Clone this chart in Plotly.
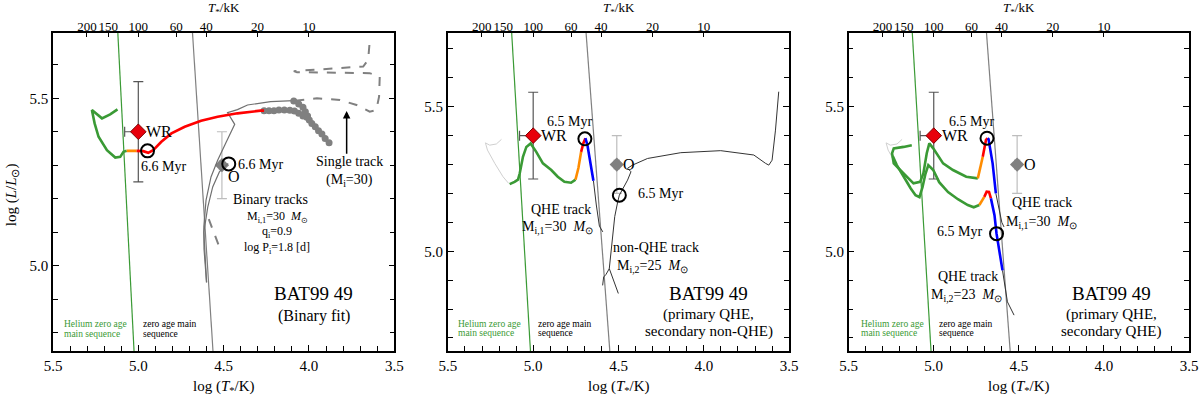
import numpy as np
import plotly.graph_objects as go

# ---------------- data (logT, logL) ----------------
# zero age main sequences
zams_logT = [4.544, 4.702]
zams_logL = [4.60, 5.85]
he_zams_logT = [5.0105, 5.1355]
he_zams_logL = [4.60, 5.85]

# observed components
wr_logT = [5.00]
wr_logL = [5.40]
wr_err_L = [0.15]
wr_err_T = [0.08]
o_logT = [4.51]
o_logL = [5.30]
o_err_L = [0.10]
o_err_T = [0.015]

# top axis ticks in kK
top_ticks_kK = [200, 150, 100, 60, 40, 20, 10]

# ---- panel 1: binary fit ----
p1_green_T = [5.122, 5.165, 5.213, 5.272, 5.256, 5.233, 5.184, 5.135, 5.106, 5.087, 5.068]
p1_green_L = [5.467, 5.452, 5.440, 5.465, 5.425, 5.385, 5.345, 5.323, 5.325, 5.340, 5.343]
p1_orange_T = [5.068, 5.010]
p1_orange_L = [5.343, 5.343]
p1_red_T = [5.010, 4.971, 4.942, 4.913, 4.865, 4.806, 4.728, 4.632, 4.535, 4.419, 4.283, 4.263]
p1_red_L = [5.343, 5.342, 5.337, 5.345, 5.370, 5.395, 5.415, 5.433, 5.445, 5.455, 5.463, 5.463]
p1_prim_T = [4.600, 4.615, 4.616, 4.603, 4.574, 4.535, 4.488, 4.458, 4.435, 4.477, 4.419, 4.360, 4.225, 4.089]
p1_prim_L = [4.950, 5.050, 5.116, 5.196, 5.265, 5.315, 5.366, 5.395, 5.422, 5.457, 5.466, 5.480, 5.490, 5.493]
p1_sec_T = [4.600, 4.616, 4.593, 4.564, 4.525, 4.473]
p1_sec_L = [4.950, 5.100, 5.175, 5.235, 5.280, 5.305]
p1_rlof_T = [4.089, 4.060, 4.035, 4.021, 4.008, 3.998, 3.983, 3.963, 3.944, 3.924, 3.905, 3.882]
p1_rlof_L = [5.492, 5.483, 5.473, 5.460, 5.447, 5.435, 5.425, 5.415, 5.403, 5.393, 5.380, 5.367]
p1_rlof2_T = [4.263, 4.234, 4.205, 4.176, 4.144, 4.112, 4.085, 4.060, 4.035, 4.012]
p1_rlof2_L = [5.463, 5.463, 5.463, 5.465, 5.465, 5.464, 5.462, 5.455, 5.447, 5.443]
p1_single_T = [4.587, 4.529, None, 4.080, 3.953, 3.818, 3.721, 3.644, 3.605, 3.589, 3.585,
               3.644, 3.876, 4.070, 4.089, 3.876, 3.682, 3.653, 3.644]
p1_single_L = [5.139, 5.061, None, 5.493, 5.500, 5.495, 5.480, 5.460, 5.465, 5.505, 5.565,
               5.575, 5.577, 5.578, 5.581, 5.588, 5.595, 5.615, 5.669]
p1_age_T = [4.946, 4.470]
p1_age_L = [5.343, 5.304]

# ---- panels 2 and 3: faint earlier track ----
ghost_T = [5.144, 5.177, 5.225, 5.268, 5.280, 5.255, 5.216, 5.186]
ghost_L = [5.235, 5.258, 5.304, 5.350, 5.375, 5.367, 5.371, 5.387]

# ---- panel 2: primary QHE, secondary non-QHE ----
p2_thin_T = [4.592, 4.612, 4.630, 4.647]
p2_thin_L = [5.067, 5.087, 5.160, 5.244]
p2_blue_T = [4.647, 4.665, 4.682, 4.694]
p2_blue_L = [5.244, 5.305, 5.367, 5.391]
p2_red_T = [4.694, 4.706, 4.719]
p2_red_L = [5.391, 5.374, 5.344]
p2_orange_T = [4.719, 4.735, 4.752]
p2_orange_L = [5.344, 5.288, 5.248]
p2_green_T = [4.752, 4.778, 4.817, 4.856, 4.894, 4.943, 4.982, 5.015, 5.040, 5.060, 5.079, 5.089, 5.109, 5.138]
p2_green_L = [5.248, 5.237, 5.240, 5.258, 5.281, 5.304, 5.344, 5.373, 5.361, 5.327, 5.269, 5.248, 5.240, 5.232]
p2_sec_T = [4.593, 4.587, 4.573, 4.554, 4.501, None, 4.554, 4.545, 4.535, 4.522, 4.505, 4.495,
            4.447, 4.427, 4.447, 4.418, 4.330, 4.135, 3.901, 3.707, 3.638, 3.619, 3.600, 3.580, 3.561]
p2_sec_L = [4.882, 4.911, 4.920, 4.940, 4.854, None, 4.940, 4.990, 5.060, 5.120, 5.170, 5.194,
            5.246, 5.275, 5.287, 5.298, 5.321, 5.341, 5.348, 5.333, 5.304, 5.298, 5.315, 5.419, 5.552]
p2_age_T = [4.697, 4.495]
p2_age_L = [5.389, 5.194]

# ---- panel 3: primary QHE, secondary QHE ----
p3a_thin_T = [4.587, 4.600, 4.635]
p3a_thin_L = [5.084, 5.100, 5.200]
p3a_blue_T = [4.635, 4.654, 4.678, 4.683]
p3a_blue_L = [5.200, 5.304, 5.388, 5.391]
p3a_red_T = [4.683, 4.693, 4.712]
p3a_red_L = [5.391, 5.385, 5.327]
p3a_orange_T = [4.712, 4.722, 4.741]
p3a_orange_L = [5.327, 5.298, 5.252]
p3a_green_T = [4.741, 4.809, 4.887, 4.945, 5.003, 5.026, 5.041, 5.061, 5.080, 5.119, 5.177, 5.235,
               5.245, 5.235, 5.177, 5.129]
p3a_green_L = [5.252, 5.258, 5.281, 5.304, 5.356, 5.373, 5.339, 5.269, 5.240, 5.235, 5.269, 5.304,
               5.339, 5.356, 5.361, 5.367]
p3b_thin_T = [4.596, 4.575, 4.567, 4.528]
p3b_thin_L = [4.934, 4.860, 4.825, 4.779]
p3b_blue_T = [4.596, 4.614, 4.631, 4.643, 4.664]
p3b_blue_L = [4.934, 4.997, 5.061, 5.125, 5.183]
p3b_red_T = [4.664, 4.675, 4.689, 4.703]
p3b_red_L = [5.183, 5.205, 5.206, 5.188]
p3b_orange_T = [4.703, 4.718, 4.732]
p3b_orange_L = [5.188, 5.173, 5.160]
p3b_green_T = [4.732, 4.765, 4.800, 4.858, 4.916, 4.968, 5.003, 5.032, 5.049, 5.066, 5.084, 5.107,
               5.136, 5.177, 5.217, 5.241]
p3b_green_L = [5.160, 5.152, 5.160, 5.180, 5.205, 5.239, 5.281, 5.298, 5.267, 5.222, 5.187, 5.194,
               5.218, 5.260, 5.298, 5.329]
p3_age_T = [4.687, 4.631]
p3_age_L = [5.391, 5.061]

# ---------------- styling ----------------
SERIF = "Liberation Serif, Times New Roman, serif"
GREEN = "#3a9a35"
ORANGE = "#ff8c00"
RED = "#ff0000"
BLUE = "#0000ff"
GREY = "#707070"

fig = go.Figure()


def ax(n):
    return ("x" if n == 1 else f"x{n}"), ("y" if n == 1 else f"y{n}")


def add_line(n, x, y, color, width, dash="solid"):
    xa, ya = ax(n)
    fig.add_trace(go.Scatter(x=x, y=y, xaxis=xa, yaxis=ya, mode="lines",
                             line=dict(color=color, width=width, dash=dash),
                             connectgaps=False, hoverinfo="skip", showlegend=False))


def add_common(n):
    xa, ya = ax(n)
    add_line(n, he_zams_logT, he_zams_logL, GREEN, 1.2)
    add_line(n, zams_logT, zams_logL, "#808080", 1.2)
    # WR star with error bars
    fig.add_trace(go.Scatter(
        x=wr_logT, y=wr_logL, xaxis=xa, yaxis=ya, mode="markers",
        marker=dict(symbol="diamond", size=12, color="#e8000b", line=dict(color="#800000", width=1)),
        error_y=dict(type="data", array=wr_err_L, color="#555555", thickness=1.2, width=5),
        error_x=dict(type="data", array=wr_err_T, arrayminus=[0], color="#555555", thickness=1.2, width=5),
        hoverinfo="skip", showlegend=False))
    # O star with error bars
    fig.add_trace(go.Scatter(
        x=o_logT, y=o_logL, xaxis=xa, yaxis=ya, mode="markers",
        marker=dict(symbol="diamond", size=11, color="#808080"),
        error_y=dict(type="data", array=o_err_L, color="#bdbdbd", thickness=1.2, width=5),
        error_x=dict(type="data", array=o_err_T, color="#bdbdbd", thickness=1.2, width=5),
        hoverinfo="skip", showlegend=False))


def add_ages(n, x, y):
    xa, ya = ax(n)
    fig.add_trace(go.Scatter(x=x, y=y, xaxis=xa, yaxis=ya, mode="markers",
                             marker=dict(symbol="circle-open", size=13, color="black", line=dict(width=2)),
                             hoverinfo="skip", showlegend=False))


# ---- panel 1 ----
add_common(1)
add_line(1, p1_single_T, p1_single_L, "#808080", 2, "dash")
add_line(1, p1_prim_T, p1_prim_L, GREY, 1.2)
add_line(1, p1_sec_T, p1_sec_L, GREY, 1.2)
for tx, ly in [(p1_rlof_T, p1_rlof_L), (p1_rlof2_T, p1_rlof2_L)]:
    fig.add_trace(go.Scatter(x=tx, y=ly, xaxis="x", yaxis="y", mode="lines+markers",
                             line=dict(color="#808080", width=2),
                             marker=dict(size=7, color="#808080"),
                             hoverinfo="skip", showlegend=False))
add_line(1, p1_green_T, p1_green_L, GREEN, 2.6)
add_line(1, p1_orange_T, p1_orange_L, ORANGE, 2.6)
add_line(1, p1_red_T, p1_red_L, RED, 2.6)
add_ages(1, p1_age_T, p1_age_L)

# ---- panel 2 ----
add_common(2)
add_line(2, ghost_T, ghost_L, "#d0d0d0", 1)
add_line(2, p2_sec_T, p2_sec_L, "#333333", 1)
add_line(2, p2_thin_T, p2_thin_L, "#333333", 1)
add_line(2, p2_green_T, p2_green_L, GREEN, 2.6)
add_line(2, p2_orange_T, p2_orange_L, ORANGE, 2.6)
add_line(2, p2_red_T, p2_red_L, RED, 2.6)
add_line(2, p2_blue_T, p2_blue_L, BLUE, 2.6)
add_ages(2, p2_age_T, p2_age_L)

# ---- panel 3 ----
add_common(3)
add_line(3, ghost_T, ghost_L, "#d0d0d0", 1)
add_line(3, p3a_thin_T, p3a_thin_L, "#333333", 1)
add_line(3, p3b_thin_T, p3b_thin_L, "#333333", 1)
for pre in ["p3a", "p3b"]:
    d = globals()
    add_line(3, d[pre + "_green_T"], d[pre + "_green_L"], GREEN, 2.6)
    add_line(3, d[pre + "_orange_T"], d[pre + "_orange_L"], ORANGE, 2.6)
    add_line(3, d[pre + "_red_T"], d[pre + "_red_L"], RED, 2.6)
    add_line(3, d[pre + "_blue_T"], d[pre + "_blue_L"], BLUE, 2.6)
add_ages(3, p3_age_T, p3_age_L)

# dummy traces so the top (T/kK) axes are drawn
for n, base in [(4, "y"), (5, "y2"), (6, "y3")]:
    fig.add_trace(go.Scatter(x=[], y=[], xaxis=f"x{n}", yaxis=base, showlegend=False, hoverinfo="skip"))

# ---------------- axes ----------------
domains = [[0.0, 0.3004], [0.3476, 0.6480], [0.7004, 1.0]]
y_ranges = [[4.745, 5.695], [4.655, 5.755], [4.655, 5.755]]
top_vals = list(np.log10(np.array(top_ticks_kK) * 1e3))
top_text = [str(t) for t in top_ticks_kK]

layout_axes = {}
for i in range(3):
    n = i + 1
    xk = "xaxis" if n == 1 else f"xaxis{n}"
    yk = "yaxis" if n == 1 else f"yaxis{n}"
    ya = "y" if n == 1 else f"y{n}"
    xa = "x" if n == 1 else f"x{n}"
    layout_axes[xk] = dict(
        domain=domains[i], anchor=ya, range=[5.5, 3.5], tick0=3.5, dtick=0.5, tickformat=".1f",
        ticks="inside", ticklen=6, tickcolor="black", showline=True, linecolor="black", linewidth=1.5,
        showgrid=False, zeroline=False, mirror=False, tickangle=0,
        tickfont=dict(family=SERIF, size=15, color="black"),
        minor=dict(dtick=0.1, ticks="inside", ticklen=5, tickcolor="black", showgrid=False))
    layout_axes[yk] = dict(
        domain=[0, 1], anchor=xa, range=y_ranges[i], tick0=5.0, dtick=0.5, tickformat=".1f",
        ticks="inside", ticklen=6, tickcolor="black", showline=True, linecolor="black", linewidth=1.5,
        showgrid=False, zeroline=False, mirror="ticks",
        tickfont=dict(family=SERIF, size=15, color="black"),
        minor=dict(dtick=0.1, ticks="inside", ticklen=5, tickcolor="black", showgrid=False))
    layout_axes[f"xaxis{n + 3}"] = dict(
        overlaying=xa, side="top", anchor=ya, range=[5.5, 3.5], tickvals=top_vals, ticktext=top_text,
        ticks="inside", ticklen=4, tickcolor="black", showline=True, linecolor="black", linewidth=1.5,
        showgrid=False, zeroline=False, tickangle=0, ticklabelstandoff=-5,
        tickfont=dict(family=SERIF, size=13, color="black"))

fig.update_layout(**layout_axes)

# ---------------- text ----------------
annots = []


def txt(n, x, y, text, size=14, color="black", xanchor="center"):
    xa, ya = ax(n)
    annots.append(dict(x=x, y=y, xref=xa, yref=ya, text=text, showarrow=False, xanchor=xanchor,
                       yanchor="middle", font=dict(family=SERIF, size=size, color=color)))


MSUN = "<i>M</i><sub>⊙</sub>"
# labels shared by all panels
for n, (hx, zx, y1, y2) in {1: (5.446, 4.984, 4.826, 4.797),
                             2: (5.453, 4.986, 4.749, 4.716),
                             3: (5.438, 4.979, 4.749, 4.716)}.items():
    txt(n, hx, y1, "Helium zero age", 9.5, GREEN, "left")
    txt(n, hx, y2, "main sequence", 9.5, GREEN, "left")
    txt(n, zx, y1, "zero age main", 9.5, "black", "left")
    txt(n, zx, y2, "sequence", 9.5, "black", "left")
    txt(n, 4.965, 5.40, "WR", 16, "black", "left")

# panel 1
txt(1, 4.855, 5.297, "6.6 Myr", 14)
txt(1, 4.43, 5.303, "6.6 Myr", 14, "black", "left")
txt(1, 4.485, 5.267, "O", 16, "black", "left")
txt(1, 4.227, 5.198, "Binary tracks", 14)
txt(1, 4.186, 5.145, "M<sub>i,1</sub>=30  " + MSUN, 12)
txt(1, 4.186, 5.100, "q<sub>i</sub>=0.9", 12)
txt(1, 4.186, 5.052, "log P<sub>i</sub>=1.8 [d]", 12)
txt(1, 3.762, 5.310, "Single track", 14)
txt(1, 3.762, 5.255, "(M<sub>i</sub>=30)", 14)
txt(1, 3.973, 4.916, "BAT99 49", 19)
txt(1, 3.973, 4.851, "(Binary fit)", 16)
annots.append(dict(x=3.779, y=5.462, ax=3.779, ay=5.330, xref="x", yref="y", axref="x", ayref="y",
                   showarrow=True, arrowhead=2, arrowsize=1, arrowwidth=1.5, arrowcolor="black", text=""))

# panel 2
txt(2, 4.787, 5.450, "6.5 Myr", 14)
txt(2, 4.484, 5.300, "O", 16, "black", "left")
txt(2, 4.398, 5.200, "6.5 Myr", 14, "black", "left")
txt(2, 4.836, 5.145, "QHE track", 14)
txt(2, 4.856, 5.082, "M<sub>i,1</sub>=30  " + MSUN, 14)
txt(2, 4.281, 5.012, "non-QHE track", 14)
txt(2, 4.301, 4.948, "M<sub>i,2</sub>=25  " + MSUN, 14)
txt(2, 3.970, 4.854, "BAT99 49", 19)
txt(2, 3.970, 4.781, "(primary QHE,", 15)
txt(2, 3.970, 4.721, "secondary non-QHE)", 15)

# panel 3
txt(3, 4.780, 5.450, "6.5 Myr", 14)
txt(3, 4.480, 5.300, "O", 16, "black", "left")
txt(3, 4.364, 5.169, "QHE track", 14)
txt(3, 4.364, 5.100, "M<sub>i,1</sub>=30  " + MSUN, 14)
txt(3, 4.703, 5.067, "6.5 Myr", 14, "black", "right")
txt(3, 4.800, 4.914, "QHE track", 14)
txt(3, 4.809, 4.848, "M<sub>i,2</sub>=23  " + MSUN, 14)
txt(3, 3.958, 4.854, "BAT99 49", 19)
txt(3, 3.958, 4.781, "(primary QHE,", 15)
txt(3, 3.958, 4.721, "secondary QHE)", 15)

# axis titles
for n in [1, 2, 3]:
    xa = "x" if n == 1 else f"x{n}"
    annots.append(dict(x=0.5, y=1.078, xref=f"{xa} domain", yref="paper", showarrow=False,
                       xanchor="center", yanchor="middle",
                       text="<i>T</i><sub>*</sub>/kK", font=dict(family=SERIF, size=13, color="black")))
    annots.append(dict(x=0.5, y=-0.113, xref=f"{xa} domain", yref="paper", showarrow=False,
                       xanchor="center", yanchor="middle",
                       text="log (<i>T</i><sub>*</sub>/K)", font=dict(family=SERIF, size=15, color="black")))
annots.append(dict(x=-0.036, y=0.49, xref="paper", yref="paper", showarrow=False, textangle=-90,
                   xanchor="center", yanchor="middle",
                   text="log (<i>L</i>/<i>L</i><sub>⊙</sub>)", font=dict(family=SERIF, size=15, color="black")))

fig.update_layout(
    width=1200, height=395,
    margin=dict(l=53, r=2, t=33, b=44),
    paper_bgcolor="white", plot_bgcolor="white",
    showlegend=False,
    annotations=annots,
)

fig.write_html("out.html", config={"displayModeBar": False},
               post_script="document.body.style.margin='0px';")
